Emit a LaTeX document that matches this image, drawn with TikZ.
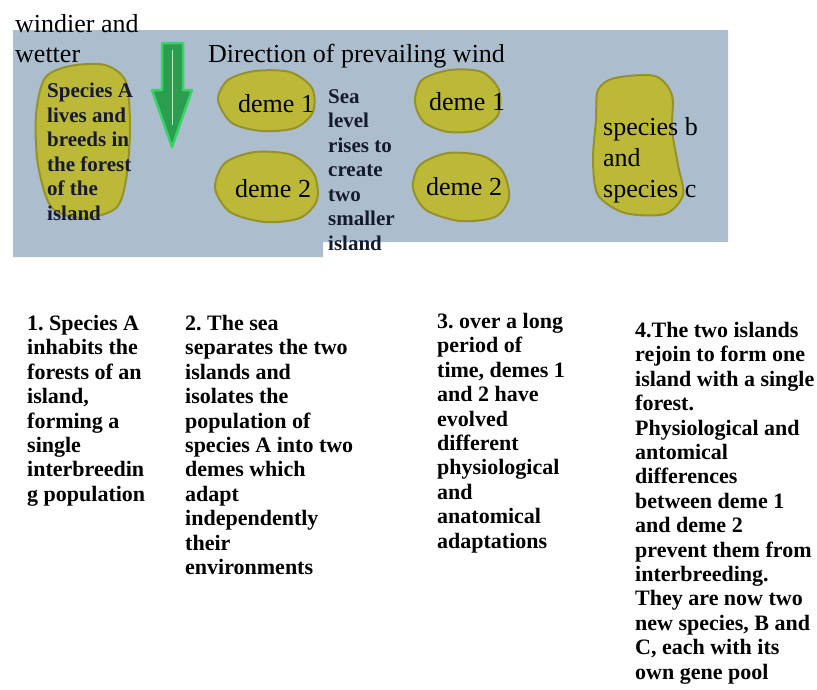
\documentclass[tikz,border=0pt]{standalone}
\usepackage{fontspec}
\setmainfont{Liberation Serif}
\usepackage{tikz}
\frenchspacing

\definecolor{sea}{RGB}{172,190,206}
\definecolor{forest}{RGB}{188,184,56}
\definecolor{forestedge}{RGB}{150,146,42}
\definecolor{windgreen}{RGB}{56,210,104}
\definecolor{ink}{RGB}{22,26,48}

\begin{document}
\begin{tikzpicture}[x=1pt,y=-1pt,
  island/.style={fill=forest,draw=forestedge,line width=2pt},
  txt/.style={inner sep=0pt,anchor=base west,align=left},
  para/.style={inner sep=0pt,anchor=north west,align=left},
  big/.style={font=\fontsize{26}{31}\selectfont},
  small/.style={font=\fontsize{21}{24.5}\selectfont\bfseries,text=ink},
  stage/.style={font=\fontsize{22}{24.4}\selectfont\bfseries}]
\useasboundingbox (0,0) rectangle (817,689);

% the sea
\fill[sea] (13,30) -- (728,30) -- (728,242) -- (323,242) -- (323,257) -- (13,257) -- cycle;

% islands
\draw[island] plot[smooth cycle] coordinates {(45,78) (70,66) (105,65) (126,82) (130,130) (126,180) (116,208) (85,218) (52,208) (38,165) (36,115)};
\draw[island] plot[smooth cycle] coordinates {(218,100) (228,80) (255,71) (290,72) (312,88) (313,112) (295,128) (262,131) (232,123)};
\draw[island] plot[smooth cycle] coordinates {(215,188) (225,163) (255,152) (292,155) (314,174) (317,200) (300,218) (265,222) (230,212)};
\draw[island] plot[smooth cycle] coordinates {(415,102) (422,80) (450,70) (482,72) (499,90) (498,115) (478,130) (448,132) (424,122)};
\draw[island] plot[smooth cycle] coordinates {(413,188) (420,165) (448,153) (483,156) (503,172) (509,198) (495,217) (460,221) (426,210)};
\draw[island] plot[smooth cycle] coordinates {(615,78) (655,76) (672,95) (672,130) (678,165) (683,195) (665,214) (625,213) (598,195) (593,160) (596,120) (598,90)};

% wind arrow
\draw[fill=windgreen!75!black,draw=windgreen,line width=2.5pt,line join=round]
  (162,43) -- (183,43) -- (183,90) -- (192,90) -- (172,147) -- (152,90) -- (162,90) -- cycle;
\draw[windgreen!40!white,line width=1pt] (172,50) -- (172,125);

% labels on the map
\node[txt,big] (windier) at (15,32) {windier and};
\node[txt,big] (wetter) at (15,62) {wetter};
\node[txt,big] (wind) at (208,62) {Direction of prevailing wind};
\node[para,small] (speciesA) at (47,83) {Species A\\lives and\\breeds in\\the forest\\of the\\island};
\node[para,small] (sealevel) at (328,89) {Sea\\level\\rises to\\create\\two\\smaller\\island};
\node[txt,big] (demeA) at (238,112) {deme 1};
\node[txt,big] (demeB) at (235,197) {deme 2};
\node[txt,big] (demeC) at (429,110) {deme 1};
\node[txt,big] (demeD) at (426,195) {deme 2};
\node[para,big] (speciesBC) at (603,117) {species b\\and\\species c};

% the four stages
\node[para,stage] (stage1) at (27,315) {1. Species A\\inhabits the\\forests of an\\island,\\forming a\\single\\interbreedin\\g population};
\node[para,stage] (stage2) at (185,315) {2. The sea\\separates the two\\islands and\\isolates the\\population of\\species A into two\\demes which\\adapt\\independently\\their\\environments};
\node[para,stage] (stage3) at (437,313) {3. over a long\\period of\\time, demes 1\\and 2 have\\evolved\\different\\physiological\\and\\anatomical\\adaptations};
\node[para,stage] (stage4) at (635,322) {4.The two islands\\rejoin to form one\\island with a single\\forest.\\Physiological and\\antomical\\differences\\between deme 1\\and deme 2\\prevent them from\\interbreeding.\\They are now two\\new species, B and\\C, each with its\\own gene pool};

\end{tikzpicture}
\end{document}
